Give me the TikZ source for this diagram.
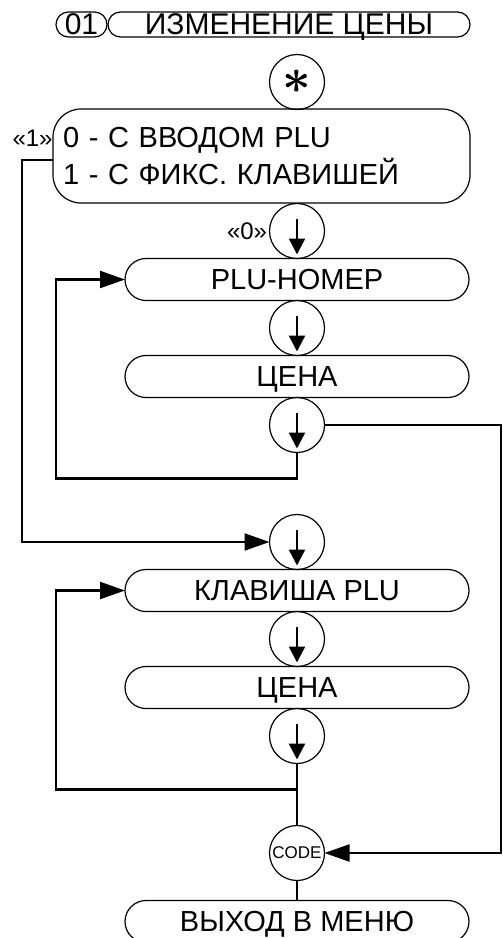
\documentclass[tikz,border=0pt]{standalone}
\usepackage{fontspec}
\setmainfont{Liberation Sans}
\usetikzlibrary{arrows.meta,positioning,calc}
\tikzset{
  menubox/.style={
    draw,
    line width=0.6pt,
    rounded corners=10.5pt,
    minimum width=172pt,
    minimum height=21pt,
    inner sep=0pt,
    outer sep=0pt,
    text height=10.4pt,
    text depth=0pt,
    font=\fontsize{14.5}{17}\selectfont
  },
  selbox/.style={
    draw,
    line width=0.6pt,
    rounded corners=14pt,
    minimum height=47pt,
    inner xsep=5pt,
    inner ysep=0pt,
    outer sep=0pt,
    text width=198.5pt,
    align=left,
    font=\fontsize{14.5}{18.5}\selectfont
  },
  keycirc/.style={draw,circle,line width=0.6pt,minimum size=27.5pt,
    inner sep=0pt,outer sep=0pt},
  keydown/.style={keycirc,
    path picture={\draw[line width=1.2pt,-{Triangle[length=8pt,width=8pt]}]
      ([yshift=-7.5pt]path picture bounding box.north) --
      ([yshift=2pt]path picture bounding box.south);}},
  optlabel/.style={inner sep=0pt,font=\fontsize{12}{14}\selectfont},
  flowline/.style={line width=1.1pt},
  flowarrow/.style={flowline,-{Triangle[length=12.5pt,width=8.5pt]}}
}

\begin{document}
\begin{tikzpicture}[x=0.5pt,y=-0.5pt]
  \useasboundingbox (0,0) rectangle (503,938);
  % header
  \node[menubox,minimum width=25.5pt,minimum height=12.5pt,
    rounded corners=6.25pt,font=\fontsize{15}{17}\selectfont]
    (num) at (81.5,24.5) {01};
  \node[menubox,minimum width=181pt,minimum height=12.5pt,
    rounded corners=6.25pt,font=\fontsize{15}{17}\selectfont]
    (title) at (289,24.5) {ИЗМЕНЕНИЕ ЦЕНЫ};
  \node[keycirc,font=\fontsize{28}{28}\selectfont\boldmath] (star)
    at (297,82) {$\ast$};
  \node[selbox] (sel) at (261.5,156)
    {0 - С ВВОДОМ PLU\\1 - С ФИКС. КЛАВИШЕЙ};
  \node[optlabel,anchor=east] (optone) at ([yshift=9pt]sel.west) {«1»};
  % mode 0
  \node[keydown] (keyA) at (297,231) {};
  \node[optlabel,left=1pt of keyA] (optzero) {«0»};
  \node[menubox,below=0pt of keyA] (plunum) {PLU-НОМЕР};
  \node[keydown,below=0pt of plunum] (keyB) {};
  \node[menubox,below=0pt of keyB] (price) {ЦЕНА};
  \node[keydown,below=0pt of price] (keyC) {};
  % mode 1
  \node[keydown,below=31pt of keyC] (keyD) {};
  \node[menubox,below=0pt of keyD] (pluKey) {КЛАВИША PLU};
  \node[keydown,below=0pt of pluKey] (keyE) {};
  \node[menubox,below=0pt of keyE] (priceB) {ЦЕНА};
  \node[keydown,below=0pt of priceB] (keyF) {};
  % exit
  \node[keycirc,below=31pt of keyF,font=\fontsize{8.5}{10}\selectfont]
    (code) {CODE};
  \node[menubox,below=10pt of code] (exit) {ВЫХОД В МЕНЮ};
  % connectors
  \coordinate (loopx) at (56,0);
  \coordinate (branchx) at (22,0);
  \coordinate (rightx) at (501,0);
  \draw[flowarrow] ([yshift=-2pt]sel.west) -| (branchx |- keyD)
    -- (keyD.west);
  \draw[flowarrow] (keyC.south) -- ++(0,-13pt) -| (loopx |- plunum)
    -- (plunum.west);
  \draw[flowarrow] (keyC.east) -| (rightx |- code) -- (code.east);
  \draw[flowarrow] (keyF.south) -- ++(0,-13pt) -| (loopx |- pluKey)
    -- (pluKey.west);
  \draw[flowline] (keyF.south) -- (code.north);
  \draw[flowline] (code.south) -- (exit.north);
\end{tikzpicture}
\end{document}
